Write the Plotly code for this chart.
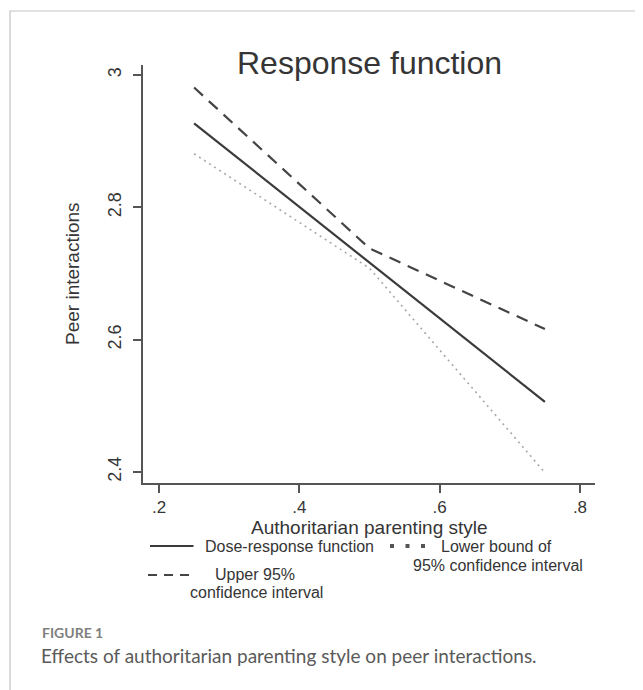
import plotly.graph_objects as go

# ---- data ----
x_vals = [0.25, 0.5, 0.75]
dose_response = [2.927, 2.7165, 2.506]
upper_95 = [2.981, 2.738, 2.616]
lower_95 = [2.881, 2.708, 2.399]

x_ticks = [0.2, 0.4, 0.6, 0.8]
x_ticktext = [".2", ".4", ".6", ".8"]
y_ticks = [2.4, 2.6, 2.8, 3.0]
y_ticktext = ["2.4", "2.6", "2.8", "3"]

title_text = "Response function"
x_title = "Authoritarian parenting style"
y_title = "Peer interactions"
caption_label = "FIGURE 1"
caption_text = "Effects of authoritarian parenting style on peer interactions."

# ---- layout geometry (page pixels; the page body has an 8px margin) ----
OFF = 8
W, H = 643 - OFF, 690 - OFF
L, R, T, B = 143 - OFF, 595 - OFF, 65 - OFF, 483 - OFF
PW, PH = R - L, B - T


def px(xp):
    return (xp - OFF - L) / PW


def py(yp):
    return (B - (yp - OFF)) / PH


FONT = "Liberation Sans, Arial, sans-serif"
TXT = "#353535"
AX = "#555555"

fig = go.Figure()
fig.add_trace(go.Scatter(x=x_vals, y=dose_response, mode="lines",
                         line=dict(color="#3a3a3a", width=2.2), showlegend=False))
fig.add_trace(go.Scatter(x=x_vals, y=upper_95, mode="lines",
                         line=dict(color="#444444", width=2.2, dash="12px,8px"), showlegend=False))
fig.add_trace(go.Scatter(x=x_vals, y=lower_95, mode="lines",
                         line=dict(color="#a8a8a8", width=1.6, dash="2px,4px"), showlegend=False))

axis_common = dict(showgrid=False, zeroline=False, showline=True, linecolor=AX, linewidth=1.5,
                   ticks="outside", ticklen=8, tickwidth=1.5, tickcolor=AX)

fig.update_xaxes(range=[0.1772, 0.8214], tickvals=x_ticks, ticktext=x_ticktext,
                 ticklabelstandoff=0, tickfont=dict(family=FONT, size=17, color=TXT),
                 **axis_common)
fig.update_yaxes(range=[2.3834, 3.0151], tickvals=y_ticks, ticktext=y_ticktext,
                 tickangle=-90, ticklabelstandoff=5, tickfont=dict(family=FONT, size=18, color=TXT),
                 **axis_common)

ann = []
ann.append(dict(text=title_text, x=0.5, y=py(63.5), xref="paper", yref="paper",
                xanchor="center", yanchor="middle", showarrow=False,
                font=dict(family=FONT, size=32, color=TXT)))
ann.append(dict(text=x_title, x=0.5, y=py(527), xref="paper", yref="paper",
                xanchor="center", yanchor="middle", showarrow=False,
                font=dict(family=FONT, size=19, color=TXT)))
ann.append(dict(text=y_title, x=px(72), y=0.5, xref="paper", yref="paper",
                xanchor="center", yanchor="middle", showarrow=False, textangle=-90,
                font=dict(family=FONT, size=19, color=TXT)))

LEG = dict(family=FONT, size=16, color=TXT)
ann.append(dict(text="Dose-response function", x=px(203), y=py(546), xref="paper", yref="paper",
                xanchor="left", yanchor="middle", showarrow=False, font=LEG))
ann.append(dict(text="Lower bound of", x=px(496), y=py(546), xref="paper", yref="paper",
                xanchor="center", yanchor="middle", showarrow=False, font=LEG))
ann.append(dict(text="95% confidence interval", x=px(498), y=py(565), xref="paper", yref="paper",
                xanchor="center", yanchor="middle", showarrow=False, font=LEG))
ann.append(dict(text="Upper 95%", x=px(254.5), y=py(574), xref="paper", yref="paper",
                xanchor="center", yanchor="middle", showarrow=False, font=LEG))
ann.append(dict(text="confidence interval", x=px(256.5), y=py(592.5), xref="paper", yref="paper",
                xanchor="center", yanchor="middle", showarrow=False, font=LEG))

ann.append(dict(text="<b>" + caption_label + "</b>", x=px(40), y=py(632), xref="paper", yref="paper",
                xanchor="left", yanchor="middle", showarrow=False,
                font=dict(family="Lato, Open Sans, sans-serif", size=14, color="#808080")))
ann.append(dict(text=caption_text, x=px(39), y=py(655), xref="paper", yref="paper",
                xanchor="left", yanchor="middle", showarrow=False,
                font=dict(family="Lato, Open Sans, sans-serif", size=19, color="#5a5a5a")))

shapes = []
# outer frame
shapes.append(dict(type="rect", xref="paper", yref="paper",
                   x0=px(10), x1=px(720), y0=py(780), y1=py(11),
                   line=dict(color="#c4c4c4", width=1.2), fillcolor="rgba(0,0,0,0)"))
# legend keys
shapes.append(dict(type="line", xref="paper", yref="paper", x0=px(150), x1=px(193.5),
                   y0=py(546), y1=py(546), line=dict(color="#3a3a3a", width=2.2)))
shapes.append(dict(type="line", xref="paper", yref="paper", x0=px(148), x1=px(196),
                   y0=py(575), y1=py(575), line=dict(color="#444444", width=2.2, dash="9px,7px")))
for cx in (392, 407.5, 423):
    shapes.append(dict(type="rect", xref="paper", yref="paper",
                       x0=px(cx - 2), x1=px(cx + 2), y0=py(548), y1=py(544),
                       line=dict(width=0), fillcolor="#555555"))

fig.update_layout(width=W, height=H, margin=dict(l=L, r=W - R, t=T, b=H - B, pad=0),
                  paper_bgcolor="white", plot_bgcolor="white",
                  annotations=ann, shapes=shapes, showlegend=False)

fig.write_html("out.html")
